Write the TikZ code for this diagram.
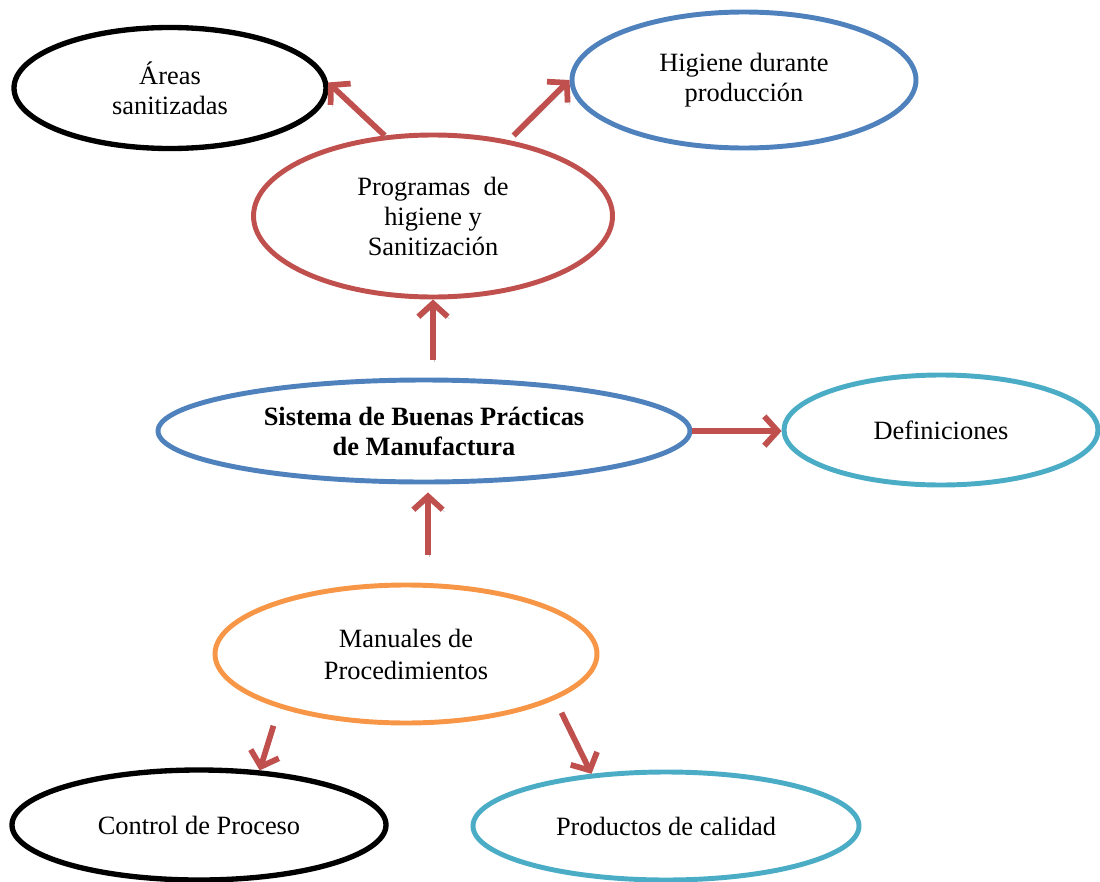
\documentclass[tikz,border=0pt]{standalone}
\usepackage{fontspec}
\setmainfont{Liberation Serif}
\usetikzlibrary{shapes.geometric,arrows.meta}
\definecolor{accRed}{HTML}{C0504D}
\definecolor{accBlue}{HTML}{4F81BD}
\definecolor{accTeal}{HTML}{4BACC6}
\definecolor{accOrange}{HTML}{F79646}
\begin{document}
\begin{tikzpicture}[x=0.75pt,y=-0.75pt,
  bubble/.style n args={3}{ellipse, draw=#3, line width=3.7pt, inner sep=0pt,
    minimum width={0.75*#1 pt}, minimum height={0.75*#2 pt}, align=center,
    font=\fontsize{19.8}{22.5}\selectfont},
  link/.style={draw=accRed, line width=4.3pt,
    -{Straight Barb[length=10pt,width=22pt]},
    preaction={draw=black!45, opacity=0.5,
      transform canvas={shift={(1.3pt,-1.7pt)}}}}
]
\useasboundingbox (0,0) rectangle (1100,882);

% ellipses
\node[bubble={312}{121}{black}, line width=4pt] (areas) at (170,88) {Áreas\\sanitizadas};
\node[bubble={344}{136}{accBlue}] (hig) at (744,80) {Higiene durante\\producción};
\node[bubble={359}{162}{accRed}] (prog) at (433,216) {Programas\ \ de\\higiene y\\Sanitización};
\node[bubble={532}{102}{accBlue}, font=\fontsize{19.8}{22.5}\selectfont\bfseries] (sis) at (424,431) {Sistema de Buenas Prácticas\\de Manufactura};
\node[bubble={314}{110}{accTeal}] (def) at (941,430) {Definiciones};
\node[bubble={382}{138}{accOrange}, font=\fontsize{19.8}{24}\selectfont] (man) at (406,654) {Manuales de\\Procedimientos};
\node[bubble={374}{110}{black}, line width=4pt] (ctl) at (199,825) {Control de Proceso};
\node[bubble={386}{108}{accTeal}] (prod) at (666,826) {Productos de calidad};

% connectors
\draw[link] (prog.121) -- (areas.2);
\draw[link, shorten <=5pt] (prog.45) -- (hig.west);
\draw[link, shorten <=13pt] (sis.north -| prog.south) -- (prog.south);
\draw[link] (sis.east) -- (sis.east -| def.west);
\draw[link, shorten <=21pt, shorten >=6pt] (man.north -| 428,0) -- (sis.south -| 428,0);
\draw[link, shorten <=14pt] (man.203) -- (ctl.42);
\draw[link, shorten <=11pt] (man.343) -- (prod.145);
\end{tikzpicture}
\end{document}
